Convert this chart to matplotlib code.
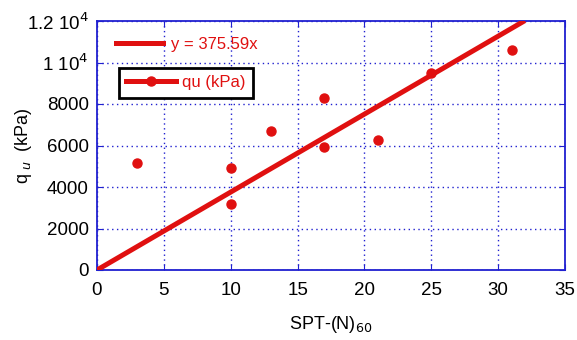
import matplotlib
matplotlib.use("Agg")
import matplotlib.pyplot as plt
from matplotlib.lines import Line2D
import numpy as np

plt.rcParams['font.family'] = ['Liberation Sans', 'DejaVu Sans']

spt = [3, 10, 10, 13, 17, 17, 21, 25, 31]
qu = [5150, 4900, 3200, 6700, 8300, 5950, 6250, 9500, 10600]
slope = 375.59
fit_x = [0, 32]
x_ticks = [0, 5, 10, 15, 20, 25, 30, 35]
y_ticks = [0, 2000, 4000, 6000, 8000, 10000, 12000]
y_tick_labels = ['0', '2000', '4000', '6000', '8000', '1 10$^4$', '1.2 10$^4$']

red = '#e01010'
blue = '#2020d0'

fig = plt.figure(figsize=(5.77, 3.4), dpi=100)
ax = fig.add_axes([97/577, 1-270/340, 468/577, 249/340])

fx = np.array(fit_x, dtype=float)
ax.plot(fx, slope*fx, color=red, lw=3.6, solid_capstyle='butt', zorder=3)
ax.plot(spt, qu, 'o', color=red, ms=6.5, zorder=4)

ax.set_xlim(0, 35)
ax.set_ylim(0, 12000)
ax.set_xticks(x_ticks)
ax.set_yticks(y_ticks)
ax.set_yticklabels(y_tick_labels)
ax.tick_params(labelsize=13.5, direction='in', colors=blue, labelcolor='black',
               length=4, top=True, right=True)
ax.tick_params(axis='x', pad=8.5)
ax.tick_params(axis='y', pad=6)
ax.grid(True, color=blue, linestyle=(0, (1, 2.5)), lw=1)
for s in ax.spines.values():
    s.set_color(blue)
    s.set_linewidth(1.3)

ax.set_xlabel('SPT-(N)$_{60}$', fontsize=13, labelpad=11)
ax.set_ylabel('q$_{\\ u}$  (kPa)', fontsize=13)
ax.yaxis.set_label_coords(-0.135, 0.5)

h1 = Line2D([], [], color=red, lw=3.6)
leg1 = ax.legend([h1], ['y = 375.59x'], loc='center left',
                 bbox_to_anchor=((116-97)/468, (270-44)/249),
                 frameon=False, fontsize=12, handlelength=2.8, handletextpad=0.5,
                 borderpad=0, borderaxespad=0)
for t in leg1.get_texts():
    t.set_color(red)
ax.add_artist(leg1)
h2 = Line2D([], [], color=red, lw=3.6, marker='o', ms=6.5)
leg2 = ax.legend([h2], ['qu (kPa)'], loc='center',
                 bbox_to_anchor=((186-97)/468, (270-82.5)/249),
                 frameon=True, fancybox=False, edgecolor='black', framealpha=1,
                 fontsize=12, handlelength=3.0, handletextpad=0.35, borderpad=0.45,
                 borderaxespad=0)
leg2.get_frame().set_linewidth(2)
for t in leg2.get_texts():
    t.set_color(red)

fig.savefig('out.png', dpi=100)
